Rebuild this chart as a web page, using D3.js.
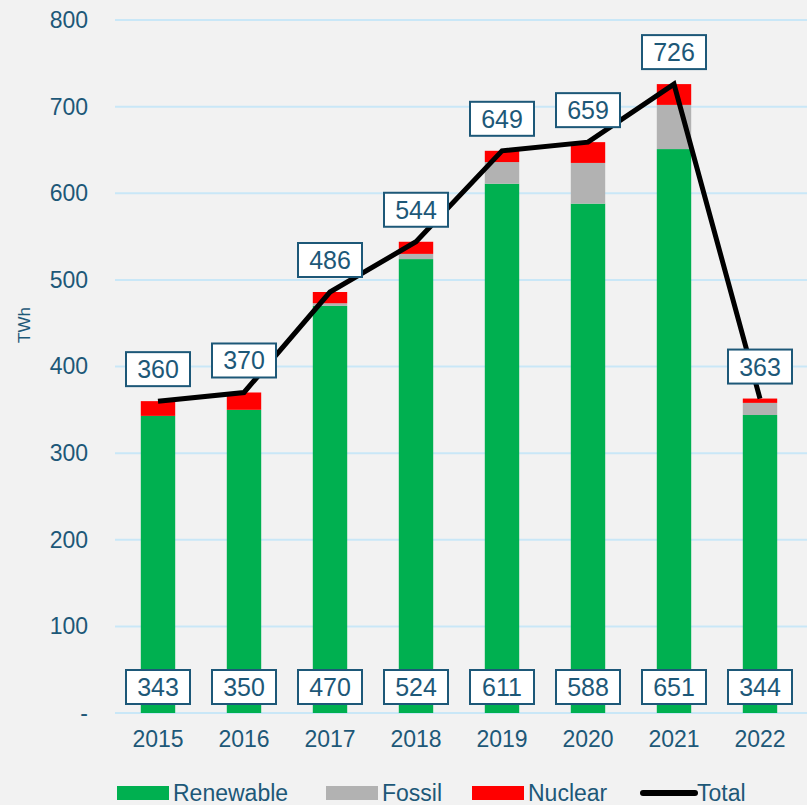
<!DOCTYPE html>
<html>
<head>
  <meta charset="utf-8" />
  <title>TWh by source</title>
  <style type="text/css">
  body { margin: 0; background: #f2f2f2; }
  svg { display: block; font-family: Arial, "Liberation Sans", sans-serif; }
  </style>
  <script src="https://cdnjs.cloudflare.com/ajax/libs/d3/7.8.5/d3.min.js"></script>
</head>
<body>
<div id="chart"></div>
<script type="text/javascript">
// data
var years = ["2015", "2016", "2017", "2018", "2019", "2020", "2021", "2022"];
var renewable = [343, 350, 470, 524, 611, 588, 651, 344];
var fossil = [0, 0, 3, 6, 25, 47, 51, 14];
var nuclear = [17, 20, 13, 14, 13, 24, 24, 5];
var total = [360, 370, 486, 544, 649, 659, 726, 363];
var yTicks = [0, 100, 200, 300, 400, 500, 600, 700, 800];

var w = 807, h = 805;
// plot area (note: "top" is reserved by window, so use pTop)
var pLeft = 115, pRight = 803, pTop = 20, pBottom = 713;
var textCol = "#1d5878";

var svg = d3.select("#chart").append("svg")
  .attr("width", w)
  .attr("height", h);

// light grey background
svg.append("rect").attr("width", w).attr("height", h).attr("fill", "#f2f2f2");

var x = d3.scaleBand().domain(years).range([pLeft, pRight]).paddingInner(0.6).paddingOuter(0.3);
var y = d3.scaleLinear().domain([0, 800]).range([pBottom, pTop]);

// gridlines
svg.selectAll("line.grid")
  .data(yTicks)
  .enter()
  .append("line")
  .attr("class", "grid")
  .attr("x1", pLeft)
  .attr("x2", w)
  .attr("y1", function(d) { return y(d); })
  .attr("y2", function(d) { return y(d); })
  .attr("stroke", "#c9e7f7")
  .attr("stroke-width", 2);

// y axis labels
var yAxis = d3.axisLeft(y).tickValues(yTicks).tickSize(0).tickPadding(0)
  .tickFormat(function(d) { return d == 0 ? "-" : d; });
var ya = svg.append("g").attr("transform", "translate(88,0)").call(yAxis);
ya.select(".domain").remove();
ya.selectAll("text").attr("fill", textCol).style("font-size", "23px")
  .attr("font-family", "Arial, 'Liberation Sans', sans-serif");

// x axis labels
var xAxis = d3.axisBottom(x).tickSize(0).tickPadding(0);
var xa = svg.append("g").attr("transform", "translate(0,731)").call(xAxis);
xa.select(".domain").remove();
xa.selectAll("text").attr("fill", textCol).style("font-size", "23px")
  .attr("font-family", "Arial, 'Liberation Sans', sans-serif");

svg.append("text")
  .attr("transform", "translate(30,325) rotate(-90)")
  .attr("text-anchor", "middle")
  .attr("fill", textCol)
  .style("font-size", "17px")
  .text("TWh");

// stacked bars
var rows = years.map(function(yr, i) {
  return { year: yr, Renewable: renewable[i], Fossil: fossil[i], Nuclear: nuclear[i] };
});
var keys = ["Renewable", "Fossil", "Nuclear"];
var colors = { Renewable: "#00b050", Fossil: "#b2b2b2", Nuclear: "#ff0000" };
var stack = d3.stack().keys(keys)(rows);

svg.selectAll("g.layer")
  .data(stack)
  .enter()
  .append("g")
  .attr("class", "layer")
  .attr("fill", function(d) { return colors[d.key]; })
  .selectAll("rect")
  .data(function(d) { return d; })
  .enter()
  .append("rect")
  .attr("x", function(d) { return x(d.data.year); })
  .attr("width", x.bandwidth())
  .attr("y", function(d) { return y(d[1]); })
  .attr("height", function(d) { return y(d[0]) - y(d[1]); });

// total line
var line = d3.line()
  .x(function(d, i) { return x(years[i]) + x.bandwidth() / 2; })
  .y(function(d) { return y(d); });
svg.append("path")
  .datum(total)
  .attr("d", line)
  .attr("fill", "none")
  .attr("stroke", "#000")
  .attr("stroke-width", 5)
  .attr("stroke-linejoin", "miter");

// boxed labels
function addLabel(cx, cy, txt) {
  svg.append("rect")
    .attr("x", cx - 32).attr("y", cy - 17)
    .attr("width", 64).attr("height", 34)
    .attr("fill", "#fff")
    .attr("stroke", "#1d5878")
    .attr("stroke-width", 2);
  svg.append("text")
    .attr("x", cx).attr("y", cy + 9)
    .attr("text-anchor", "middle")
    .attr("fill", textCol)
    .style("font-size", "25px")
    .text(txt);
}
for (var i = 0; i < years.length; i++) {
  var cx = x(years[i]) + x.bandwidth() / 2;
  addLabel(cx, y(total[i]) - 32, total[i]);
  addLabel(cx, 687, renewable[i]);
}

// legend
var legend = [
  { name: "Renewable", x: 117, type: "rect", color: colors.Renewable },
  { name: "Fossil", x: 326, type: "rect", color: colors.Fossil },
  { name: "Nuclear", x: 472, type: "rect", color: colors.Nuclear },
  { name: "Total", x: 641, type: "line", color: "#000" }
];
legend.forEach(function(l) {
  if (l.type == "rect") {
    svg.append("rect").attr("x", l.x).attr("y", 786).attr("width", 52).attr("height", 14).attr("fill", l.color);
  } else {
    svg.append("line").attr("x1", l.x + 2).attr("x2", l.x + 54).attr("y1", 793).attr("y2", 793)
      .attr("stroke", l.color).attr("stroke-width", 6).attr("stroke-linecap", "round");
  }
  svg.append("text")
    .attr("x", l.x + 56).attr("y", 801)
    .attr("fill", textCol)
    .style("font-size", "23px")
    .text(l.name);
});
</script>
</body>
</html>
